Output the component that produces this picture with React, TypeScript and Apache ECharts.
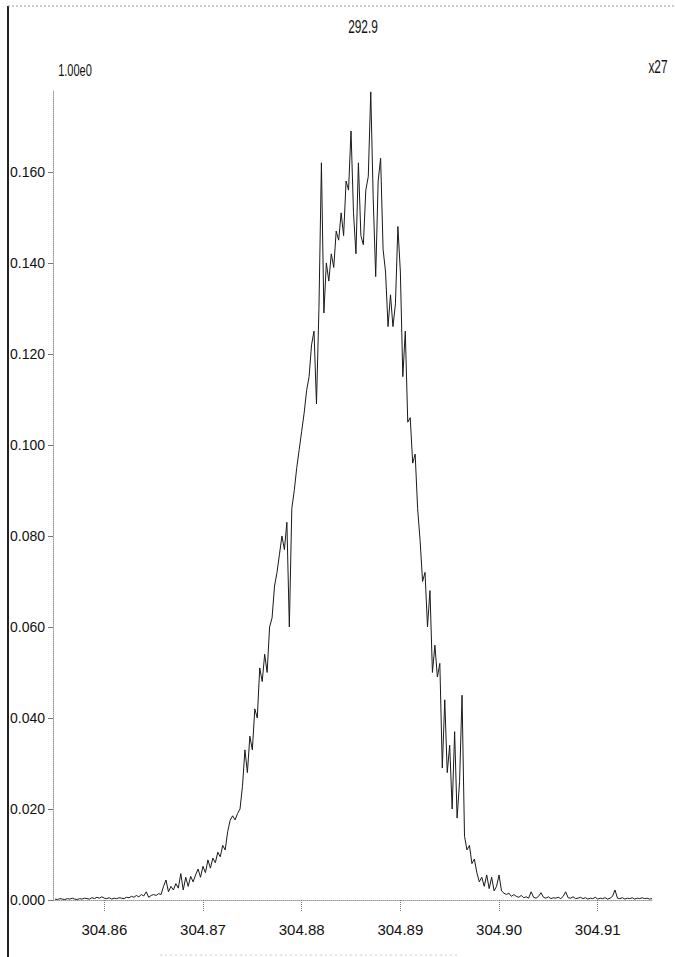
import React, { useEffect, useRef } from "react";
import * as echarts from "echarts";

// m/z sampling grid of the trace
const MZ_START = 304.855;
const MZ_STEP = 0.00025;

// intensity (one value per grid step)
const intensity = [
  0.0002, 0.0001, 0.0003, 0.0002, 0.0001, 0.0003, 0.0002, 0.0004, 0.0002, 0.0001,
  0.0003, 0.0002, 0.0004, 0.0003, 0.0002, 0.0005, 0.0003, 0.0006, 0.0004, 0.0007,
  0.0004, 0.0003, 0.0005, 0.0002, 0.0004, 0.0003, 0.0005, 0.0004, 0.0003, 0.0006,
  0.0005, 0.0008, 0.0006, 0.0010, 0.0007, 0.0012, 0.0009, 0.0018, 0.0006, 0.0010,
  0.0012, 0.0010, 0.0014, 0.0012, 0.0030, 0.0044, 0.0018, 0.0030, 0.0022, 0.0036,
  0.0026, 0.0058, 0.0022, 0.0050, 0.0030, 0.0052, 0.0040, 0.0055, 0.0068, 0.0050,
  0.0074, 0.0060, 0.0088, 0.0070, 0.0092, 0.0082, 0.0105, 0.0095, 0.0120, 0.0110,
  0.0150, 0.0175, 0.0185, 0.0176, 0.0190, 0.0200, 0.0250, 0.0330, 0.0280, 0.0360,
  0.0330, 0.0420, 0.0400, 0.0510, 0.0480, 0.0540, 0.0500, 0.0600, 0.0620, 0.0690,
  0.0720, 0.0760, 0.0800, 0.0770, 0.0830, 0.0600, 0.0860, 0.0900, 0.0950, 0.0990,
  0.1030, 0.1070, 0.1120, 0.1150, 0.1220, 0.1250, 0.1090, 0.1300, 0.1620, 0.1290,
  0.1400, 0.1360, 0.1420, 0.1390, 0.1470, 0.1450, 0.1510, 0.1460, 0.1580, 0.1560,
  0.1690, 0.1510, 0.1420, 0.1620, 0.1460, 0.1440, 0.1560, 0.1590, 0.1776, 0.1540,
  0.1370, 0.1580, 0.1630, 0.1430, 0.1380, 0.1260, 0.1330, 0.1260, 0.1310, 0.1480,
  0.1380, 0.1150, 0.1250, 0.1050, 0.1060, 0.0960, 0.0980, 0.0860, 0.0790, 0.0700,
  0.0720, 0.0600, 0.0680, 0.0500, 0.0560, 0.0490, 0.0520, 0.0290, 0.0440, 0.0280,
  0.0340, 0.0200, 0.0370, 0.0180, 0.0260, 0.0450, 0.0140, 0.0110, 0.0120, 0.0080,
  0.0090, 0.0060, 0.0040, 0.0050, 0.0030, 0.0055, 0.0025, 0.0050, 0.0020, 0.0030,
  0.0055, 0.0020, 0.0015, 0.0012, 0.0015, 0.0008, 0.0012, 0.0008, 0.0006, 0.0010,
  0.0005, 0.0007, 0.0004, 0.0018, 0.0006, 0.0004, 0.0008, 0.0016, 0.0006, 0.0004,
  0.0007, 0.0003, 0.0005, 0.0004, 0.0006, 0.0003, 0.0008, 0.0018, 0.0005, 0.0004,
  0.0007, 0.0003, 0.0004, 0.0006, 0.0003, 0.0005, 0.0002, 0.0004, 0.0003, 0.0006,
  0.0002, 0.0004, 0.0003, 0.0005, 0.0002, 0.0004, 0.0008, 0.0022, 0.0004, 0.0003,
  0.0005, 0.0002, 0.0004, 0.0003, 0.0005, 0.0002, 0.0004, 0.0003, 0.0005, 0.0003,
  0.0004, 0.0002, 0.0003,
];

const xTickValues = [304.86, 304.87, 304.88, 304.89, 304.9, 304.91];
const yTickValues = [0, 0.02, 0.04, 0.06, 0.08, 0.1, 0.12, 0.14, 0.16];
const X_MIN = 304.8548;
const X_MAX = 304.9155;
const Y_MAX = 0.178;

const titleText = "292.9";
const scaleText = "1.00e0";
const magText = "x27";

const FONT = "'Liberation Sans Narrow', 'Arial Narrow', 'Liberation Sans', Arial, sans-serif";

export default function App() {
  const ref = useRef<HTMLDivElement>(null);
  useEffect(() => {
    if (!ref.current) return;
    const chart = echarts.init(ref.current, null, { renderer: "svg" });
    const data = intensity.map((v, i) => [MZ_START + i * MZ_STEP, v]);
    const topText = (text: string, x: number, y: number, size: number) => ({
      type: "text",
      x,
      y,
      scaleX: 0.85,
      scaleY: 1.25,
      style: {
        text,
        fill: "#111",
        font: `${size}px ${FONT}`,
        textAlign: "center",
        textVerticalAlign: "middle",
      },
    });
    chart.setOption({
      animation: false,
      backgroundColor: "#ffffff",
      grid: { left: 53, right: 23, top: 90, bottom: 57 },
      xAxis: {
        type: "value",
        min: X_MIN,
        max: X_MAX,
        offset: 2,
        axisLine: { show: true, lineStyle: { color: "#999", type: "dotted", width: 1 } },
        axisTick: {
          show: true,
          length: 12,
          customValues: xTickValues,
          lineStyle: { color: "#777", type: "dotted", width: 1 },
        },
        axisLabel: {
          customValues: xTickValues,
          margin: 20,
          formatter: (v: number) => v.toFixed(2),
          color: "#111",
          fontFamily: FONT,
          fontSize: 15,
        },
        splitLine: { show: false },
      },
      yAxis: {
        type: "value",
        min: 0,
        max: Y_MAX,
        axisLine: { show: true, lineStyle: { color: "#999", type: "dotted", width: 1 } },
        axisTick: {
          show: true,
          length: 5,
          customValues: yTickValues,
          lineStyle: { color: "#777", width: 1 },
        },
        axisLabel: {
          customValues: yTickValues,
          margin: 8,
          formatter: (v: number) => v.toFixed(3),
          color: "#111",
          fontFamily: FONT,
          fontSize: 14,
        },
        splitLine: { show: false },
      },
      series: [
        {
          type: "line",
          data,
          symbol: "none",
          showSymbol: false,
          silent: true,
          lineStyle: { color: "#1a1a1a", width: 1 },
        },
      ],
      graphic: [
        {
          type: "line",
          shape: { x1: 8, y1: 6, x2: 8, y2: 957 },
          style: { stroke: "#222", lineWidth: 2 },
        },
        {
          type: "line",
          shape: { x1: 8, y1: 6, x2: 675, y2: 6 },
          style: { stroke: "#999", lineWidth: 1, lineDash: [2, 2] },
        },
        {
          type: "line",
          shape: { x1: 160, y1: 955, x2: 460, y2: 955 },
          style: { stroke: "#ccc", lineWidth: 1, lineDash: [2, 3] },
        },
        topText(titleText, 363, 27, 14),
        topText(scaleText, 75, 70, 13),
        topText(magText, 658, 67, 14),
      ],
    });
    return () => chart.dispose();
  }, []);
  return (
    <div
      ref={ref}
      style={{ position: "fixed", left: 0, top: 0, width: 675, height: 957, background: "#fff" }}
    />
  );
}
